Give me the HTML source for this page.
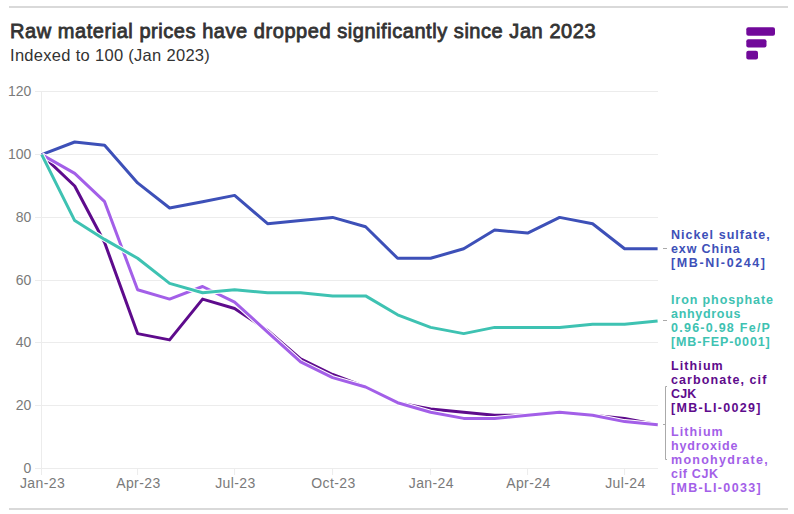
<!DOCTYPE html>
<html><head><meta charset="utf-8">
<style>
html,body{margin:0;padding:0;background:#fff;}
body{width:794px;height:514px;position:relative;overflow:hidden;font-family:"Liberation Sans",sans-serif;}
.hl{position:absolute;left:9px;width:779px;height:2px;background:#d9d9d9;}
.title{position:absolute;left:10px;top:20px;font-size:20px;line-height:23px;color:#333;-webkit-text-stroke:0.8px #333;white-space:nowrap;letter-spacing:0.55px;}
.sub{position:absolute;left:10px;top:46px;font-size:16.5px;line-height:19px;color:#333;white-space:nowrap;letter-spacing:0.3px;}
svg{position:absolute;left:0;top:0;}
.yl{font-size:14px;fill:#7a7a7a;text-anchor:end;}
.xl{font-size:14px;letter-spacing:0.4px;fill:#7a7a7a;text-anchor:middle;}
.lab{position:absolute;left:671px;font-size:12.5px;font-weight:bold;line-height:14px;white-space:nowrap;}
</style></head><body>
<div class="hl" style="top:6px"></div>
<div class="title">Raw material prices have dropped significantly since Jan 2023</div>
<div class="sub">Indexed to 100 (Jan 2023)</div>
<svg width="794" height="514" viewBox="0 0 794 514">
 <g stroke="#ececec" stroke-width="1" fill="none">
  <line x1="35" y1="91.5" x2="658" y2="91.5"/>
  <line x1="35" y1="154.5" x2="658" y2="154.5"/>
  <line x1="35" y1="217.5" x2="658" y2="217.5"/>
  <line x1="35" y1="280.5" x2="658" y2="280.5"/>
  <line x1="35" y1="342.5" x2="658" y2="342.5"/>
  <line x1="35" y1="405.5" x2="658" y2="405.5"/>
  <line x1="35" y1="468.5" x2="658" y2="468.5"/>
  <line x1="41.5" y1="91" x2="41.5" y2="475"/>
  <line x1="137.6" y1="468" x2="137.6" y2="475"/>
  <line x1="234.6" y1="468" x2="234.6" y2="475"/>
  <line x1="332.6" y1="468" x2="332.6" y2="475"/>
  <line x1="430.6" y1="468" x2="430.6" y2="475"/>
  <line x1="527.6" y1="468" x2="527.6" y2="475"/>
  <line x1="624.6" y1="468" x2="624.6" y2="475"/>
 </g>
 <g class="yl">
  <text x="31.4" y="96.1">120</text>
  <text x="31.4" y="158.9">100</text>
  <text x="31.4" y="221.7">80</text>
  <text x="31.4" y="284.5">60</text>
  <text x="31.4" y="347.4">40</text>
  <text x="31.4" y="410.2">20</text>
  <text x="31.4" y="473.0">0</text>
 </g>
 <g class="xl">
  <text x="42.5" y="487.8">Jan-23</text>
  <text x="138.4" y="487.8">Apr-23</text>
  <text x="235.4" y="487.8">Jul-23</text>
  <text x="333.4" y="487.8">Oct-23</text>
  <text x="431.4" y="487.8">Jan-24</text>
  <text x="528.4" y="487.8">Apr-24</text>
  <text x="625.4" y="487.8">Jul-24</text>
 </g>
 <g fill="none" stroke-linejoin="round" stroke-linecap="butt">
  <path stroke="#fff" stroke-width="5" d="M41.7 154.6 L74.7 142.0 L104.6 145.2 L137.6 182.9 L169.6 208.0 L202.6 201.7 L234.6 195.4 L267.6 223.7 L300.6 220.6 L332.6 217.4 L365.6 226.8 L397.6 258.3 L430.6 258.3 L463.7 248.8 L494.6 230.0 L527.6 233.1 L559.6 217.4 L592.6 223.7 L624.6 248.8 L657.6 248.8"/>
  <path stroke="#3d50b8" stroke-width="3" d="M41.7 154.6 L74.7 142.0 L104.6 145.2 L137.6 182.9 L169.6 208.0 L202.6 201.7 L234.6 195.4 L267.6 223.7 L300.6 220.6 L332.6 217.4 L365.6 226.8 L397.6 258.3 L430.6 258.3 L463.7 248.8 L494.6 230.0 L527.6 233.1 L559.6 217.4 L592.6 223.7 L624.6 248.8 L657.6 248.8"/>
  <path stroke="#fff" stroke-width="5" d="M41.7 154.6 L74.7 186.0 L104.6 242.5 L137.6 333.6 L169.6 339.9 L202.6 299.1 L234.6 308.5 L267.6 330.5 L300.6 358.8 L332.6 374.5 L365.6 387.0 L397.6 402.7 L430.6 409.0 L463.7 412.2 L494.6 415.3 L527.6 415.3 L559.6 412.2 L592.6 415.3 L624.6 418.4 L657.6 424.7"/>
  <path stroke="#5e0b8c" stroke-width="3" d="M41.7 154.6 L74.7 186.0 L104.6 242.5 L137.6 333.6 L169.6 339.9 L202.6 299.1 L234.6 308.5 L267.6 330.5 L300.6 358.8 L332.6 374.5 L365.6 387.0 L397.6 402.7 L430.6 409.0 L463.7 412.2 L494.6 415.3 L527.6 415.3 L559.6 412.2 L592.6 415.3 L624.6 418.4 L657.6 424.7"/>
  <path stroke="#fff" stroke-width="5" d="M41.7 154.6 L74.7 173.4 L104.6 201.7 L137.6 289.7 L169.6 299.1 L202.6 286.5 L234.6 302.2 L267.6 332.1 L300.6 361.9 L332.6 377.6 L365.6 387.0 L397.6 402.7 L430.6 412.2 L463.7 418.4 L494.6 418.4 L527.6 415.3 L559.6 412.2 L592.6 415.3 L624.6 421.6 L657.6 424.7"/>
  <path stroke="#a35fe8" stroke-width="3" d="M41.7 154.6 L74.7 173.4 L104.6 201.7 L137.6 289.7 L169.6 299.1 L202.6 286.5 L234.6 302.2 L267.6 332.1 L300.6 361.9 L332.6 377.6 L365.6 387.0 L397.6 402.7 L430.6 412.2 L463.7 418.4 L494.6 418.4 L527.6 415.3 L559.6 412.2 L592.6 415.3 L624.6 421.6 L657.6 424.7"/>
  <path stroke="#fff" stroke-width="5" d="M41.7 154.6 L74.7 220.6 L104.6 239.4 L137.6 258.3 L169.6 283.4 L202.6 292.8 L234.6 289.7 L267.6 292.8 L300.6 292.8 L332.6 295.9 L365.6 295.9 L397.6 314.8 L430.6 327.4 L463.7 333.6 L494.6 327.4 L527.6 327.4 L559.6 327.4 L592.6 324.2 L624.6 324.2 L657.6 321.1"/>
  <path stroke="#3ec2b2" stroke-width="3" d="M41.7 154.6 L74.7 220.6 L104.6 239.4 L137.6 258.3 L169.6 283.4 L202.6 292.8 L234.6 289.7 L267.6 292.8 L300.6 292.8 L332.6 295.9 L365.6 295.9 L397.6 314.8 L430.6 327.4 L463.7 333.6 L494.6 327.4 L527.6 327.4 L559.6 327.4 L592.6 324.2 L624.6 324.2 L657.6 321.1"/>
 </g>
 <g stroke="#aaa" stroke-width="1" fill="none">
  <line x1="663" y1="248.5" x2="667" y2="248.5"/>
  <line x1="663" y1="320.5" x2="667" y2="320.5"/>
  <path d="M667 386.5 H665.5 V459.5 H667 M665.5 424.5 H663"/>
 </g>
 <g fill="#71099a">
  <rect x="746.3" y="27.2" width="28.7" height="8.5" rx="2"/>
  <rect x="746.3" y="39.2" width="20.2" height="8.2" rx="2"/>
  <rect x="746.3" y="50.8" width="11.7" height="8.7" rx="2"/>
 </g>
</svg>
<div class="lab" style="top:228px;color:#3d50b8"><div style="letter-spacing:1.05px">Nickel sulfate,</div><div style="letter-spacing:0.875px">exw China</div><div style="letter-spacing:1.6px">[MB-NI-0244]</div></div>
<div class="lab" style="top:292.5px;color:#3ec2b2"><div style="letter-spacing:0.9px">Iron phosphate</div><div style="letter-spacing:0.69px">anhydrous</div><div style="letter-spacing:1.25px">0.96-0.98 Fe/P</div><div style="letter-spacing:0.875px">[MB-FEP-0001]</div></div>
<div class="lab" style="top:358.5px;color:#5e0b8c"><div style="letter-spacing:1.1px">Lithium</div><div style="letter-spacing:1.08px">carbonate, cif</div><div style="letter-spacing:0.1px">CJK</div><div style="letter-spacing:1.3px">[MB-LI-0029]</div></div>
<div class="lab" style="top:424.7px;color:#a35fe8"><div style="letter-spacing:1.1px">Lithium</div><div style="letter-spacing:0.84px">hydroxide</div><div style="letter-spacing:1.27px">monohydrate,</div><div style="letter-spacing:0.68px">cif CJK</div><div style="letter-spacing:1.33px">[MB-LI-0033]</div></div>
<div class="hl" style="top:508px"></div>
</body></html>
